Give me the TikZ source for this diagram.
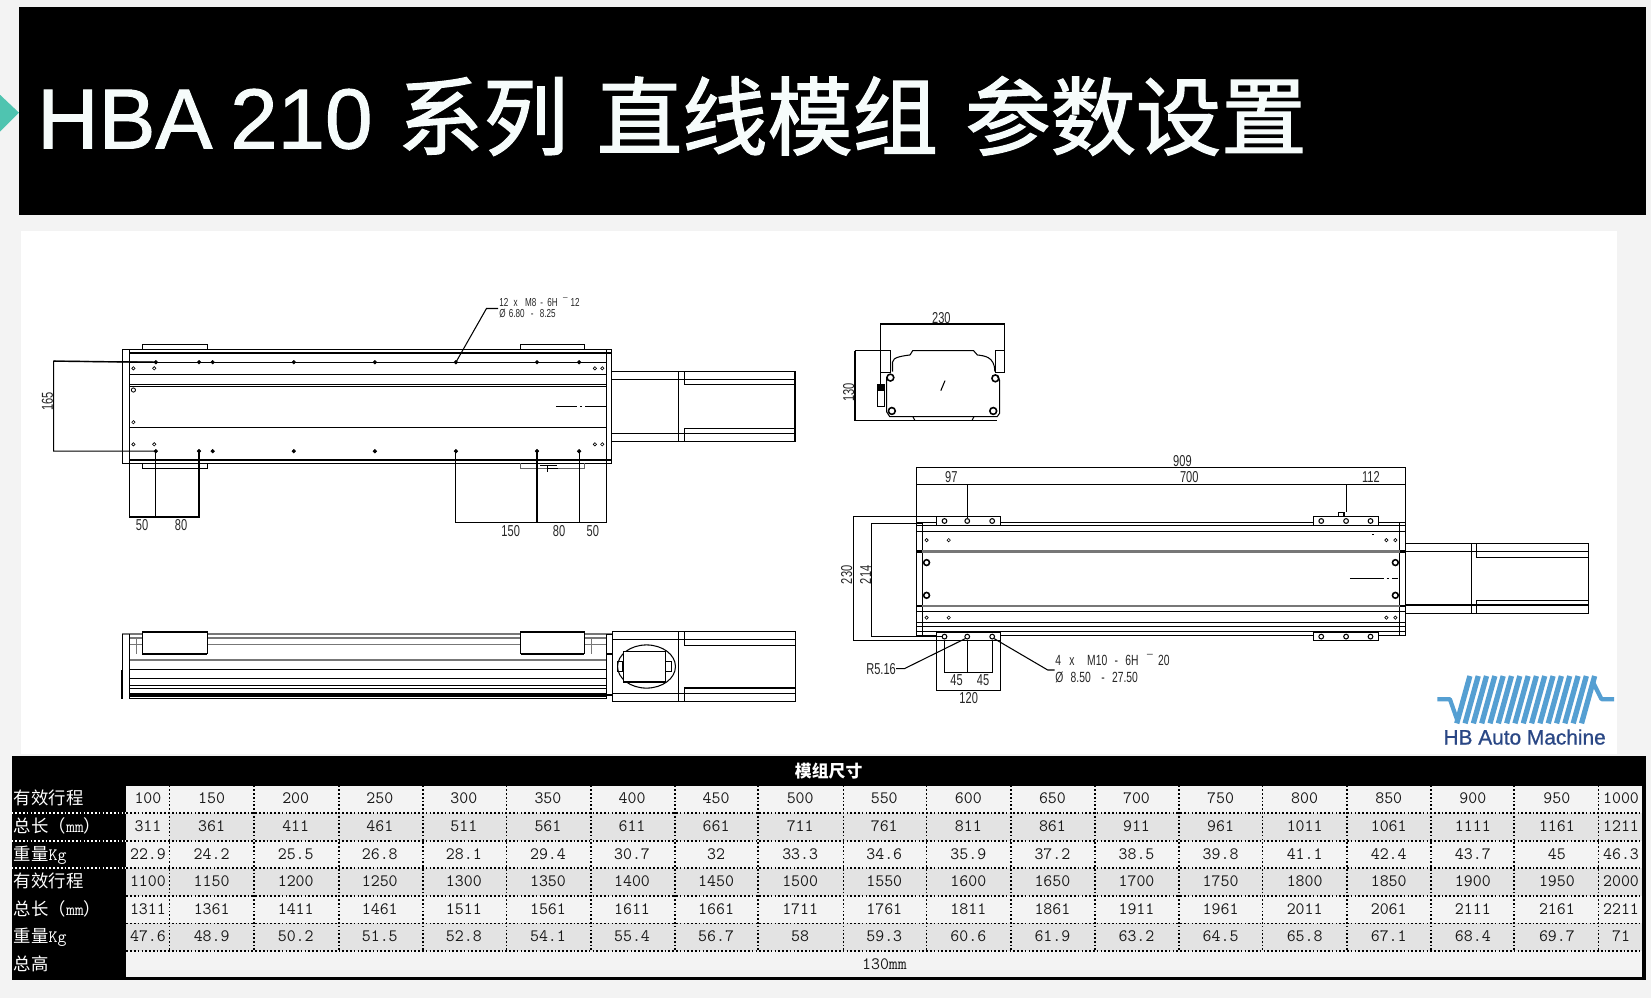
\documentclass[tikz,border=0pt]{standalone}
\usepackage{fontspec}
\usepackage{xcolor}
\usetikzlibrary{calc}
\usetikzlibrary{positioning}
\usetikzlibrary{shapes.geometric}
\setmainfont{Liberation Sans}
\newfontfamily\cjk{Noto Sans CJK SC}
\newfontfamily\cjkheavy[FakeBold=1.6]{Noto Sans CJK SC}
\newfontfamily\headfont[FakeBold=1.2]{Liberation Sans}
\newfontfamily\brandfont[FakeBold=0.8]{Liberation Sans}
\newfontfamily\cadfont[FakeStretch=0.7]{Liberation Sans}
\newcommand{\fsz}[1]{\fontsize{#1}{#1}\selectfont}
\definecolor{pagegrey}{HTML}{F3F3F3}
\definecolor{cellgrey}{HTML}{E3E3E3}
\definecolor{arrowteal}{HTML}{4FC4B0}
\definecolor{logoblue}{HTML}{559FD2}
\definecolor{logonavy}{HTML}{2A4785}
\definecolor{railgrey}{HTML}{777777}
\tikzset{
  wire/.style={line width=1pt, black},
  heavy/.style={line width=2.2pt, black},
  rail/.style={line width=1.6pt, railgrey},
  cad/.style={font=\cadfont\fsz{15}, inner sep=0pt, text=black!85},
  cadsmall/.style={font=\cadfont\fsz{11}, inner sep=0pt, text=black!85, anchor=base west},
  cadnote/.style={font=\cadfont\fsz{14}, inner sep=0pt, text=black!85, anchor=base west},
  holemark/.style={draw, diamond, fill=white, line width=0.6pt, inner sep=0pt, minimum size=3.4pt},
  holefull/.style={draw, diamond, fill=black, line width=0.6pt, inner sep=0pt, minimum size=3.6pt},
  screw/.style={draw, circle, line width=1.5pt, inner sep=0pt, minimum size=6.5pt},
  celltxt/.style={font=\ttfamily\fsz{16.5}, inner sep=0pt, text=black!90},
  rowlabel/.style={font=\cjk\fsz{16.5}, inner sep=0pt, text=white, anchor=base west},
  griddot/.style={line width=1.6pt, black, dash pattern=on 1.6pt off 2pt},
  labeldot/.style={line width=1.6pt, white, dash pattern=on 1.6pt off 2pt}
}
\begin{document}
\begin{tikzpicture}[x=1pt, y=-1pt]

\useasboundingbox (0,0) rectangle (1568,948);
\fill[pagegrey] (0,0) rectangle (1568,948);
\fill[white] (20,219) rectangle (1536,716);
\fill[black] (18,7) rectangle (1563,204);
\fill[arrowteal] (0,90) -- (18,107) -- (0,125) -- cycle;

\node[anchor=base west, inner sep=0pt, text=white!95!arrowteal, font=\headfont\fsz{81}] (title) at (35,141)
  {HBA\hspace{17pt}210\hspace{24pt}{\cjkheavy\fsz{81}系列}\hspace{27pt}{\cjkheavy\fsz{81}直线模组}\hspace{26pt}{\cjkheavy\fsz{81}参数设置}};

\path[draw, wire] (116,332) rectangle (581,440);
\path[draw, wire] (123,332) -- (123,440);
\path[draw, wire] (576,332) -- (576,440);
\path[draw, wire] (135,332) -- (135,327) -- (197,327) -- (197,332);
\path[draw, wire] (494,332) -- (494,327) -- (555,327) -- (555,332);
\path[draw, wire] (135,440) -- (135,445) -- (197,445) -- (197,440);
\path[draw, wire, black!60] (494,440) -- (494,445) -- (555,445) -- (555,440);
\path[draw, heavy] (123,335) -- (581,335);
\path[draw, heavy] (123,437) -- (581,437);
\path[draw, line width=1.5pt] (123,406) -- (576,406);
\foreach \y in {344,355.5,365.3,367} {
  \path[draw, wire] (123,\y) -- (576,\y);
}
\path[draw, heavy, line width=1.5pt] (513,442) -- (529,442);
\path[draw, heavy, line width=1.5pt] (520,442) -- (520,448);
\path[draw, wire] (520,445) -- (530,445);
\foreach \x in {148,189,202,279,356,433,510,550} {
  \node[holefull] (a\x) at (\x,344) {};
  \node[holefull] (b\x) at (\x,428.5) {};
}
\foreach \x in {126.7,146.5,565,572} {
  \node[holemark] at (\x,349.8) {};
  \node[holemark] at (\x,422) {};
}
\node[draw, circle, line width=0.8pt, inner sep=0pt, minimum size=4pt] (c1) at (126.7,370.4) {};
\node[holemark] (c2) at (126.7,401) {};
\path[draw, wire] (528,386) -- (548,386);
\path[draw, wire] (551,386) -- (553,386);
\path[draw, wire] (556,386) -- (576,386);

\coordinate (dima) at (51,343);
\coordinate (dimb) at (51,428.5);
\path[draw, wire] (a148.center) -- (dima) -- (dimb) -- (b148.center);
\path[draw, heavy, line width=1.3pt] (dima) -- (a148.center);
\node[cad, rotate=90] (d165) at (45,381) {165};

\path[draw, wire] (123,440) -- (123,491) -- (189,491) -- (b189.center);
\path[draw, wire] (b148.center) -- (148,491);
\node[cad] (d50a) at (135,499) {50};
\node[cad] (d80a) at (172,499) {80};

\path[draw, wire] (b433.center) -- (433,496) -- (576,496) -- (576,440);
\path[draw, wire] (b510.center) -- (510,496);
\path[draw, wire] (b550.center) -- (550,496);
\node[cad] (d150) at (485,504) {150};
\node[cad] (d80b) at (531,504) {80};
\node[cad] (d50b) at (563,504) {50};

\path[draw, wire] (a433.center) -- (462,293) -- (473,293);
\node[cadsmall] (note1) at (474,291.5) {12\hspace{5pt}x\hspace{7pt}M8\hspace{4pt}-\hspace{4pt}6H\hspace{5pt}¯\hspace{3pt}12};
\node[cadsmall] (note2) at (474,302) {Ø\hspace{3pt}6.80\hspace{6pt}-\hspace{6pt}8.25};

\path[draw, wire] (581,352.6) rectangle (755,419);
\path[draw, wire] (581,360) -- (755,360);
\path[draw, wire] (581,411.5) -- (755,411.5);
\path[draw, wire] (644,352.6) -- (644,419);
\path[draw, wire] (650,352.6) -- (650,365.3) -- (755,365.3);
\path[draw, wire] (650,419) -- (650,406.8) -- (755,406.8);

\foreach \y in {606,612,626.5} {
  \path[draw, rail] (123,\y) -- (576,\y);
}
\path[draw, rail, line width=2pt] (116,602.4) -- (581,602.4);
\path[draw, rail, line width=1pt] (130,606) -- (130,621);
\path[draw, rail, line width=1pt] (561.6,606) -- (561.6,621);
\foreach \y in {635.6,644,650.8,654,663} {
  \path[draw, wire] (123,\y) -- (576,\y);
}
\path[draw, heavy, line width=3pt] (123,660) -- (576,660);
\path[draw, wire] (116,602.4) -- (116,664);
\path[draw, heavy, line width=1.4pt] (116,636) -- (116,664);
\path[draw, wire] (123,602.4) -- (123,664);
\path[draw, wire] (576,602.4) -- (576,664);
\path[draw, heavy, line width=1.2pt] (576,602.4) -- (581,602.4);
\path[draw, heavy, line width=1.2pt] (576,621) -- (581,621);
\path[draw, heavy, line width=1.2pt] (576,660) -- (581,660);
\path[draw, wire, fill=white] (135,600) rectangle (197,621);
\path[draw, wire, fill=white] (494.5,600) rectangle (555,621);
\path[draw, heavy] (135,600) -- (197,600);
\path[draw, heavy] (135,621) -- (197,621);
\path[draw, heavy] (494.5,600) -- (555,600);
\path[draw, heavy] (494.5,621) -- (555,621);

\path[draw, wire, fill=white] (581.7,600) rectangle (755.7,666.4);
\path[draw, wire] (581.7,607) -- (755.7,607);
\path[draw, wire] (581.7,658.4) -- (755.7,658.4);
\path[draw, wire] (644.5,600) -- (644.5,666.4);
\path[draw, wire] (650,600) -- (650,613) -- (755.7,613);
\path[draw, wire] (650,666.4) -- (650,653.4) -- (755.7,653.4);
\node[draw, ellipse, line width=1pt, inner sep=0pt, minimum width=55pt, minimum height=41pt] (pulley) at (614,633) {};
\path[draw, wire, fill=white] (592,618.6) rectangle (632,647.7);
\path[draw, wire] (586,628) rectangle (591.5,638);
\path[draw, wire] (632,628) -- (638,628) -- (638,638) -- (632,638);

\path[draw, wire] (836.6,353) -- (836.6,307.7) -- (954,307.7) -- (954,333);
\node[cad] (d230a) at (894,302) {230};
\path[draw, wire] (812,333) -- (846,333);
\path[draw, wire] (812,399.5) -- (947,399.5);
\path[draw, wire] (812,333) -- (812,399.5);
\node[cad, rotate=90] (d130) at (806,372.6) {130};
\path[draw, wire] (836.6,333) rectangle (846,354);
\path[draw, wire] (945.3,333) rectangle (954,354);
\path[draw, wire] (847.6,353) -- (847.6,344) .. controls (847.6,339) and (858,338) .. (864.3,337.1)
  -- (866.8,333) -- (924.6,333) -- (928.2,337.1)
  .. controls (934,338) and (944.8,338) .. (944.8,353);
\path[draw, wire] (842,358) -- (842,391) -- (845,395.7) -- (947,395.7) -- (949.3,392.5) -- (949.3,361) -- (947,357);
\path[draw, heavy, line width=1.4pt] (845,395.7) -- (947,395.7);
\path[draw, wire] (867,395.7) -- (869,399.5);
\path[draw, wire] (925,395.7) -- (923,399.5);
\path[draw, wire] (893.5,371) -- (897.5,361.5);
\path[draw, wire] (833,365.6) rectangle (840,386);
\path[draw, fill=black, line width=0.4pt] (834.5,365.6) rectangle (838.5,371);
\path[draw, wire] (836.6,354) -- (836.6,366);
\node[screw] (s1) at (845.6,358.6) {};
\node[screw] (s2) at (945.3,359.3) {};
\node[screw] (s3) at (847,390.3) {};
\node[screw] (s4) at (943.3,390.3) {};

\path[draw, wire] (870.3,496) rectangle (1335,603.4);
\path[draw, wire] (875.8,496) -- (875.8,603.4);
\path[draw, wire] (1329.3,496) -- (1329.3,603.4);
\foreach \y in {504.6,580.9,591,595,599.6} {
  \path[draw, wire] (870.3,\y) -- (1335,\y);
}
\path[draw, heavy, line width=1.6pt] (870.3,499.2) -- (1335,499.2);
\path[draw, rail, line width=2.4pt] (875.8,523.9) -- (1329.3,523.9);
\path[draw, rail, line width=1.6pt] (875.8,575.2) -- (1329.3,575.2);
\foreach \x in {870.3,1329.3} {
  \path[draw, heavy, line width=2.4pt] (\x,523.9) -- +(5.6,0);
  \path[draw, heavy, line width=1.6pt] (\x,575.2) -- +(5.6,0);
}
\foreach \x in {880,901,1316.7,1325.2} {
  \node[holemark] at (\x,513) {};
  \node[holemark] at (\x,586.6) {};
}
\foreach \x in {880,1325.2} {
  \node[screw, minimum size=5.5pt] at (\x,534.3) {};
  \node[screw, minimum size=5.5pt] at (\x,565.4) {};
}
\path[draw, wire] (1282,549.2) -- (1314,549.2);
\path[draw, wire] (1317,549.2) -- (1319,549.2);
\path[draw, wire] (1322,549.2) -- (1328,549.2);
\node[fill=black, inner sep=0pt, minimum size=1.2pt] (t1) at (1304,507.4) {};
\node[fill=black, inner sep=0pt, minimum size=1.2pt] (t2) at (1304,591.3) {};

\path[draw, wire, fill=white] (889.4,490.7) rectangle (950.3,499);
\path[draw, wire, fill=white] (1247.3,490.7) rectangle (1309.2,499);
\path[draw, wire, fill=white] (889.4,600.5) rectangle (950.3,608.7);
\path[draw, wire, fill=white] (1247.3,600.5) rectangle (1309.2,608.7);
\path[draw, heavy, line width=1.5pt] (889.4,499) -- (950.3,499);
\path[draw, heavy, line width=1.5pt] (1247.3,499) -- (1309.2,499);
\path[draw, heavy, line width=1.5pt] (889.4,600.5) -- (950.3,600.5);
\path[draw, wire] (1271.4,486.5) rectangle (1276.4,490.7);
\foreach \x/\n in {897/1,918.6/2,942.3/3,1254.8/4,1278.4/5,1301.6/6} {
  \node[screw, minimum size=4.5pt, line width=1pt] (u\n) at (\x,494.8) {};
  \node[screw, minimum size=4.5pt, line width=1pt] (v\n) at (\x,604.6) {};
}

\path[draw, wire] (870.3,496) -- (870.3,443.8) -- (1335,443.8) -- (1335,496);
\path[draw, wire] (870.3,460) -- (1335,460);
\path[draw, wire] (918.6,460) -- (u2.north);
\path[draw, wire] (1278.4,460) -- (1278.4,486.5);
\node[cad] (d909) at (1123,438) {909};
\node[cad] (d97) at (903.5,453.3) {97};
\node[cad] (d700) at (1129.5,453.3) {700};
\node[cad] (d112) at (1302,453.3) {112};

\path[draw, wire] (889.4,490.7) -- (811,490.7) -- (811,608.7) -- (889.4,608.7);
\path[draw, wire] (875.8,497) -- (828,497) -- (828,604.6) -- (v1.west);
\node[cad, rotate=90] (d230b) at (804,546) {230};
\node[cad, rotate=90] (d214) at (822,546) {214};

\path[draw, wire] (889.4,608.7) -- (889.4,656) -- (950.3,656) -- (950.3,608.7);
\path[draw, wire] (v1.south) -- (897,638.5) -- (942.3,638.5) -- (v3.south);
\path[draw, wire] (v2.south) -- (918.6,638.5);
\node[cad] (d120) at (920,663) {120};
\node[cad] (d45a) at (908.5,645.5) {45};
\node[cad] (d45b) at (933.7,645.5) {45};

\node[cad, anchor=east] (r516) at (851,635) {R5.16};
\path[draw, wire] (r516.east) -- (859,635) -- (v2.south west);
\path[draw, wire] (v3.south east) -- (995,636.3) -- (1001.6,636.3);
\node[cadnote] (note3) at (1002,632.5) {4\hspace{8pt}x\hspace{12pt}M10\hspace{7pt}-\hspace{7pt}6H\hspace{8pt}¯\hspace{5pt}20};
\node[cadnote] (note4) at (1002,648) {Ø\hspace{7pt}8.50\hspace{10pt}-\hspace{7pt}27.50};

\path[draw, wire] (1335,516) rectangle (1508.5,582.5);
\path[draw, wire] (1335,523.9) -- (1508.5,523.9);
\path[draw, wire] (1335,574.6) -- (1508.5,574.6);
\path[draw, wire] (1397.2,516) -- (1397.2,582.5);
\path[draw, wire] (1402.2,516) -- (1402.2,529.3) -- (1508.5,529.3);
\path[draw, wire] (1402.2,582.5) -- (1402.2,570) -- (1508.5,570);

\foreach \k in {0,...,15} {
  \path[draw, logoblue, line width=5pt] ($(1396,642)+(7.9*\k,0)$) -- ($(1383.5,687)+(7.9*\k,0)$);
}
\path[draw, logoblue, line width=4pt, line join=round] (1365,664) -- (1377,664) -- (1384,684);
\path[draw, logoblue, line width=4pt, line join=round] (1513,648) -- (1521,664) -- (1533,664);
\node[font=\brandfont\fsz{19.8}, text=logonavy, inner sep=0pt] (brand) at (1448,700) {HB Auto Machine};

\fill[black] (11,718) rectangle (1563,931);
\fill[pagegrey] (120,746) rectangle (1559,928);
\foreach \r in {2,4,6} {
  \fill[cellgrey] (120,746+26.2*\r-26.2) rectangle (1559,746+26.2*\r);
}
\fill[pagegrey!60!cellgrey] (120,772.2) rectangle (161,798.4);
\node[font=\cjk\bfseries\fsz{16}, text=white, inner sep=0pt] (tabletitle) at (787,732) {模组尺寸};
\foreach \rowlbl [count=\r] in {有效行程,总长（{\ttfamily mm}）,重量{\ttfamily Kg},有效行程,总长（{\ttfamily mm}）,重量{\ttfamily Kg},总高} {
  \node[rowlabel] (lab\r) at (13,764.5+26.2*\r-26.2) {\rowlbl};
}
\foreach \x in {161,241,322,402,481,561,641,720,801,880,960,1040,1120,1199,1279,1359,1438,1518} {
  \path[draw, griddot] (\x,746) -- (\x,903.2);
}
\foreach \r in {1,...,6} {
  \path[draw, griddot] (120,746+26.2*\r) -- (1559,746+26.2*\r);
}
\foreach \r in {1,2,3} {
  \path[draw, labeldot] (11,746+26.2*\r) -- (120,746+26.2*\r);
}
\foreach \rowvals [count=\r] in {
  {100,150,200,250,300,350,400,450,500,550,600,650,700,750,800,850,900,950,1000},
  {311,361,411,461,511,561,611,661,711,761,811,861,911,961,1011,1061,1111,1161,1211},
  {22.9,24.2,25.5,26.8,28.1,29.4,30.7,32,33.3,34.6,35.9,37.2,38.5,39.8,41.1,42.4,43.7,45,46.3},
  {1100,1150,1200,1250,1300,1350,1400,1450,1500,1550,1600,1650,1700,1750,1800,1850,1900,1950,2000},
  {1311,1361,1411,1461,1511,1561,1611,1661,1711,1761,1811,1861,1911,1961,2011,2061,2111,2161,2211},
  {47.6,48.9,50.2,51.5,52.8,54.1,55.4,56.7,58,59.3,60.6,61.9,63.2,64.5,65.8,67.1,68.4,69.7,71}} {
  \foreach \val [count=\c] in \rowvals {
    \pgfmathsetmacro\cx{\c==1 ? 140.5 : (\c==19 ? 1539.5 : 201+79.85*(\c-2))}
    \node[celltxt] (cell\r-\c) at (\cx,758.5+26.2*\r-26.2) {\val};
  }
}
\node[celltxt] (cellh) at (840,916) {130mm};

\end{tikzpicture}
\end{document}
